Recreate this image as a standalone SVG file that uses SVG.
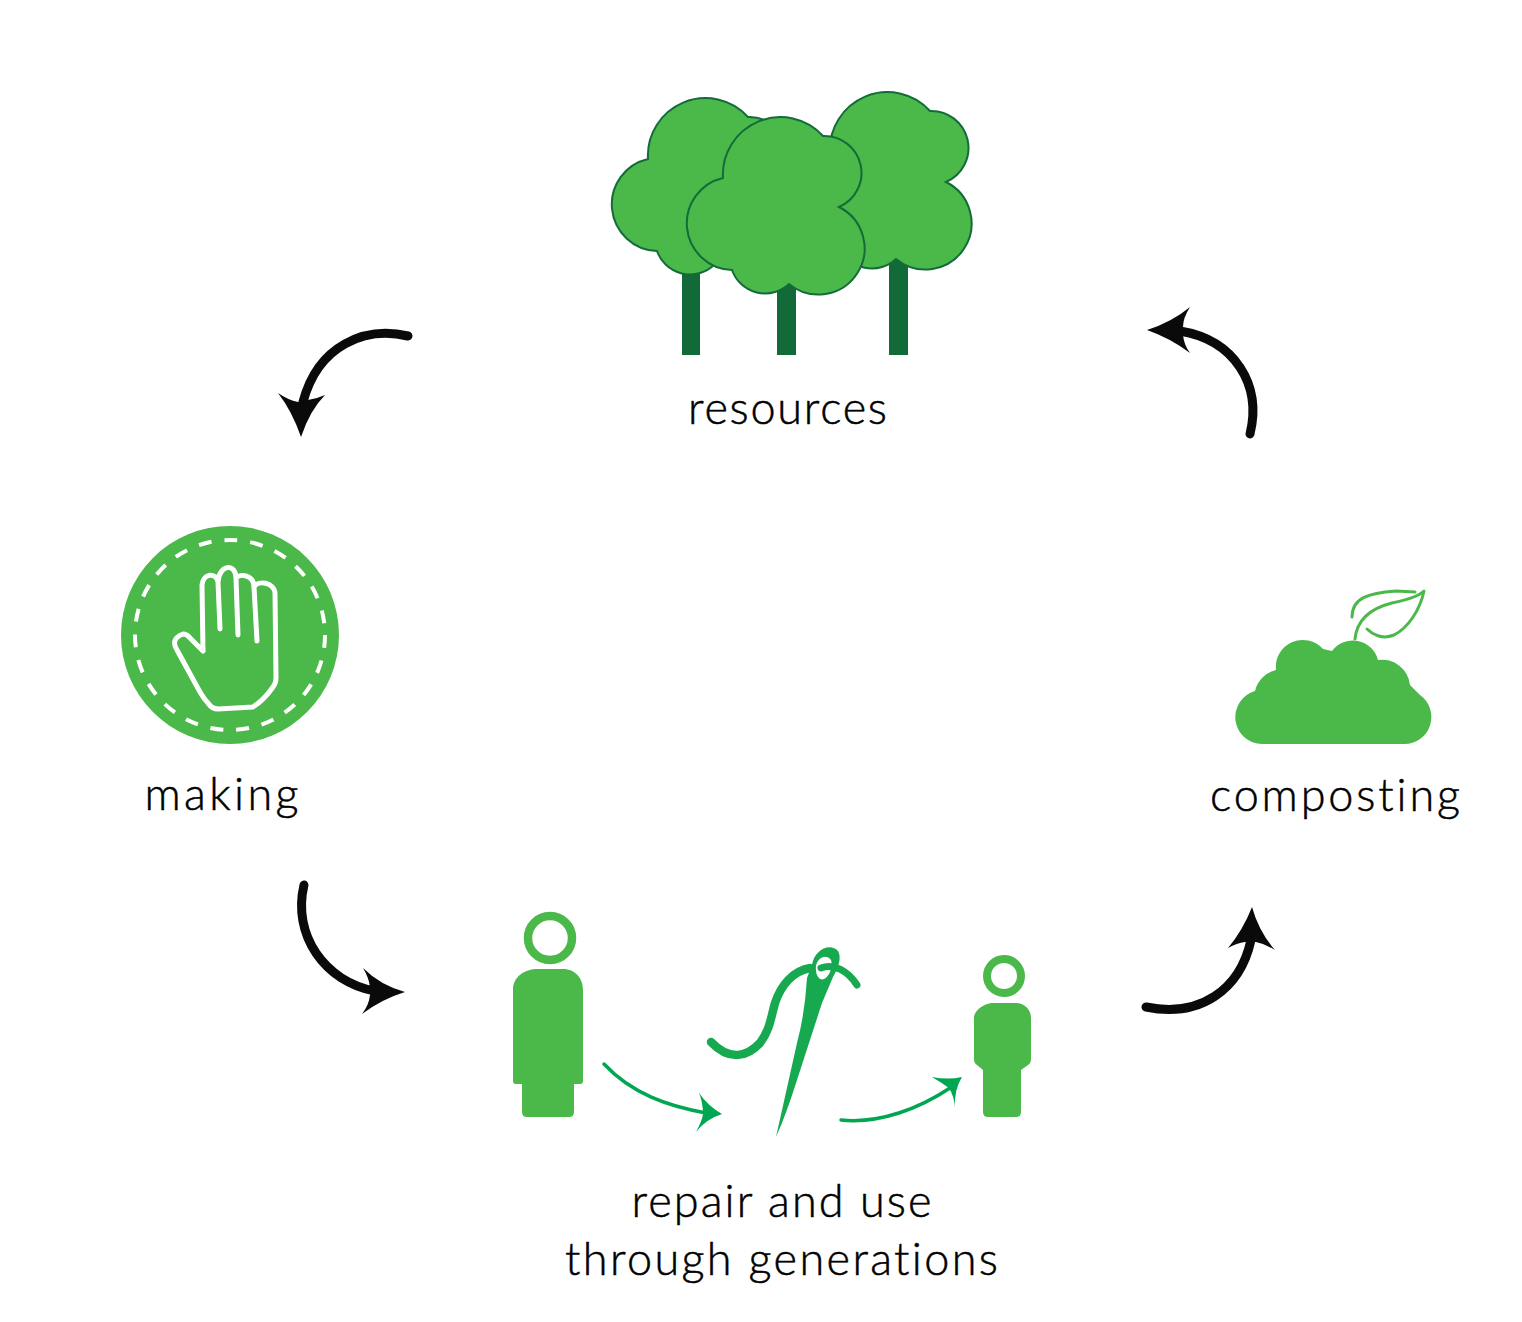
<svg xmlns="http://www.w3.org/2000/svg" width="1522" height="1322" viewBox="0 0 1522 1322">
<style>
.lbl{font-family:"Lato","Liberation Sans",sans-serif;font-size:45px;font-weight:300;fill:#000;stroke:#000;stroke-width:.5;text-anchor:middle;font-variant-ligatures:none}
.crown{fill:#4bb84a;stroke:#146b3a;stroke-width:2}
.trunk{fill:#116a38}
.g{fill:#4bb84a}
.arc{fill:none;stroke:#0a0a0a;stroke-width:9;stroke-linecap:round}
.ah{fill:#0a0a0a}
.garc{fill:none;stroke:#00a651;stroke-width:3.5;stroke-linecap:round}
.gah{fill:#00a651}
.w{fill:none;stroke:#fff;stroke-linejoin:round}
</style>
<defs>
<path id="crown" class="crown" d="M723 178A57.5 57.5 0 0 1 823 136A37 37 0 0 1 839 207A46.2 46.2 0 1 1 789 284A35 35 0 0 1 732 270A46.6 46.6 0 0 1 723 178Z"/>
</defs>
<rect width="1522" height="1322" fill="#fff"/>
<g id="connectors">
<path class="arc" d="M408 336C365 326 318 345 303 402"/>
<path class="ah" d="M278 393Q288 400 298 402L308 400Q316 399 325 395Q310 410 301 437Q292 411 278 393Z"/>
<path class="arc" d="M304 885C292 935 325 982 375 991"/>
<path class="ah" d="M405 992Q380 985 363 968Q369 978 370 987L370 995Q369 1005 362 1014Q382 999 405 992Z"/>
<path class="arc" d="M1146 1007C1200 1018 1240 990 1251 940"/>
<path class="ah" d="M1252 907Q1243 930 1228 948Q1237 943 1245 942L1256 942Q1266 944 1275 950Q1259 932 1252 907Z"/>
<path class="arc" d="M1250 434C1262 385 1235 340 1180 331"/>
<path class="ah" d="M1147 330Q1172 322 1190 307Q1183 318 1183 327L1183 335Q1184 345 1190 353Q1170 338 1147 330Z"/>
<path class="garc" d="M604 1064C632 1094 668 1106 706 1113"/>
<path class="gah" d="M699 1093Q708 1106 722 1114Q706 1119 696 1132Q702 1121 703 1114Q703 1103 699 1093Z"/>
<path class="garc" d="M841 1120C880 1124 920 1108 950 1088"/>
<path class="gah" d="M932 1077Q948 1080 962 1077Q954 1090 955 1107Q954 1096 949 1088Q942 1083 932 1077Z"/>
</g>
<g id="resources">
<rect class="trunk" x="682" y="270" width="18" height="85"/>
<rect class="trunk" x="777" y="280" width="19" height="75"/>
<rect class="trunk" x="889" y="255" width="19" height="100"/>
<path class="crown" d="M648 159A57.5 57.5 0 0 1 748 117A37 37 0 0 1 764 188L714 265A35 35 0 0 1 657 251A46.6 46.6 0 0 1 648 159Z"/>
<use href="#crown" transform="translate(107 -25)"/>
<use href="#crown"/>
</g>
<g id="making">
<circle class="g" cx="230" cy="635" r="109"/>
<circle class="w" cx="230" cy="635" r="95" stroke-width="4" stroke-dasharray="13 12.96"/>
<path class="w" stroke-width="5" stroke-linecap="round" d="M203 651L202 585C203 573 216 572 218 582L220 629M218 582C219 564 236 563 236 578L238 635M236 578C240 573 254 575 254 587L257 641M254 587C258 580 274 582 275 593L276 678Q276 683 273 687Q264 700 253 707L218 709Q212 709 208 703Q204 699 200 692L177 650C172 642 175 637 183 634Q187 634 190 638L203 651"/>
</g>
<g id="composting">
<path class="g" d="M1262 744A27 27 0 0 1 1255 691A28 28 0 0 1 1276 670A27 27 0 0 1 1323 649L1332 651A26 26 0 0 1 1378 660A28 28 0 0 1 1410 685L1420 695A27 27 0 0 1 1404 744Z"/>
<path d="M1355 639C1357 618 1372 608 1392 603C1405 600 1418 597 1424 591C1420 610 1408 628 1394 635C1382 640 1372 634 1367 629M1352 617C1352 598 1368 593 1396 591L1415 592" fill="none" stroke="#4bb84a" stroke-width="3" stroke-linecap="round" stroke-linejoin="round"/>
</g>
<g id="repair">
<circle cx="550" cy="938" r="22" fill="none" stroke="#4bb84a" stroke-width="8.5"/>
<path class="g" d="M513 990C513 977 524 969 538 969H563C575 969 583 978 583 990V1081Q583 1084 580 1084H574V1112Q574 1117 569 1117H527Q522 1117 522 1112V1084H516Q513 1084 513 1081Z"/>
<circle cx="1004" cy="976" r="17" fill="none" stroke="#4bb84a" stroke-width="8"/>
<path class="g" d="M974 1018C974 1010 985 1003 993 1003H1016C1025 1003 1031 1010 1031 1018V1060Q1031 1063 1028 1065L1021 1070V1112Q1021 1117 1016 1117H988Q983 1117 983 1112V1070L977 1065Q974 1063 974 1060Z"/>
<path fill="#17a94f" fill-rule="evenodd" d="M776 1137L797 1043Q805 1013 807 978L812 965C814 950 830 942 838 951C842 958 838 968 833 977L822 1003L797 1080Q786 1115 776 1137ZM816 966C815 976 820 981 824 979C830 976 833 966 831 960C826 953 817 958 816 966Z"/>
<path fill="none" stroke="#17a94f" stroke-width="8.5" stroke-linecap="round" d="M810 968C793 971 781 985 775 1003C771 1017 770 1030 760 1043C748 1056 730 1062 711 1042"/>
<path fill="none" stroke="#17a94f" stroke-width="7" stroke-linecap="round" d="M821 968C834 963 848 971 857 985"/>
</g>
<g id="labels">
<text class="lbl" x="787.5" y="424" textLength="199">resources</text>
<text class="lbl" x="221.5" y="810" textLength="154">making</text>
<text class="lbl" x="1335" y="811" textLength="250">composting</text>
<text class="lbl" x="781.5" y="1217" textLength="300">repair and use</text>
<text class="lbl" x="781.5" y="1275" textLength="433">through generations</text>
</g>
</svg>
